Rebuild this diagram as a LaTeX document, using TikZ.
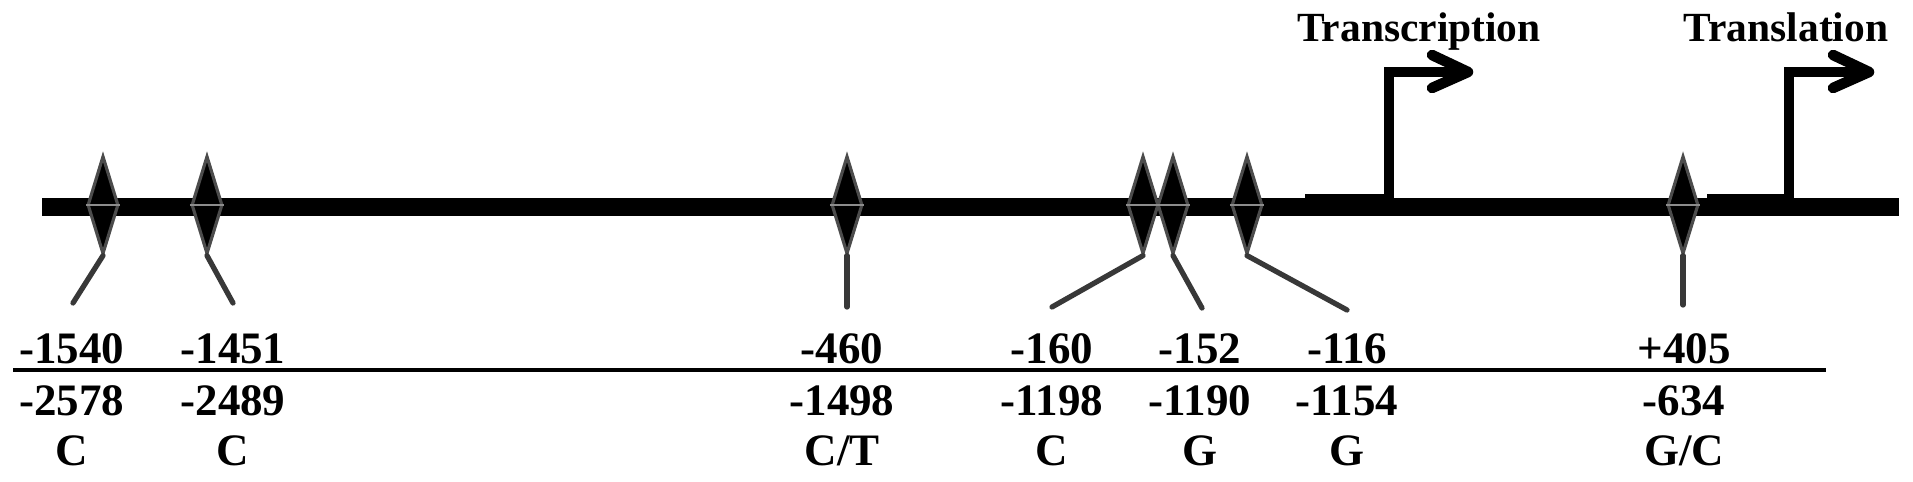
\documentclass[tikz,border=0pt]{standalone}
\usepackage{fontspec}
\setmainfont{Liberation Serif}
\usetikzlibrary{shapes.geometric}
\begin{document}
\begin{tikzpicture}[x=0.1mm,y=-0.1mm,
  snp/.style={diamond,fill=black,draw=black!70,line width=0.9pt,inner sep=0pt,minimum width=3.1mm,minimum height=9.8mm},
  mid/.style={draw=black!45,line width=0.7pt},
  lead/.style={draw=black!78,line width=1.5pt,line cap=round},
  lbl/.style={anchor=base,inner sep=0pt,font=\fontsize{12.8}{14}\selectfont\bfseries},
  ttl/.style={anchor=base,inner sep=0pt,font=\fontsize{11.8}{13}\selectfont\bfseries},
  dna/.style={line width=5.3pt},
  exon/.style={line width=6.3pt},
  bendline/.style={line width=3pt,line join=miter},
  chev/.style={line width=3pt,line cap=round,line join=round}
]
\useasboundingbox (0,0) rectangle (1913,482);
% main DNA line
\coordinate (L) at (42,207);
\coordinate (R) at (1899,207);
\draw[dna] (L) -- (R);
% transcription start
\coordinate (tsA) at (1305,205);
\coordinate (tsB) at (1389,205);
\coordinate (tsE) at (1468,72);
\draw[exon] (tsA) -- (tsB);
\draw[bendline] (tsB) |- (tsE);
\coordinate (tsU) at (1432,55);
\coordinate (tsD) at (1432,88);
\draw[chev] (tsU) -- (tsE) -- (tsD);
\node[ttl] (ttxt) at (1419,42) {Transcription};
% translation start
\coordinate (tlA) at (1707,205);
\coordinate (tlB) at (1789,205);
\coordinate (tlE) at (1869,72);
\draw[exon] (tlA) -- (tlB);
\draw[bendline] (tlB) |- (tlE);
\coordinate (tlU) at (1833,55);
\coordinate (tlD) at (1833,88);
\draw[chev] (tlU) -- (tlE) -- (tlD);
\node[ttl] (tltxt) at (1786,42) {Translation};
% SNP diamonds
\foreach \n/\x/\ex/\ey in {1/103/73/303, 2/207/233/303, 3/847/847/307, 4/1143/1052/307, 5/1173/1202/308, 6/1247/1347/310, 7/1683/1683/305}{
  \node[snp] (d\n) at (\x,205) {};
  \draw[mid] (d\n.west) -- (d\n.east);
  \coordinate (e\n) at (\ex,\ey);
  \draw[lead] (d\n.south) -- (e\n);
}
% separator
\coordinate (S1) at (13,370);
\coordinate (S2) at (1826,370);
\draw[line width=1.4pt] (S1) -- (S2);
% labels
\foreach \n/\x/\a/\b/\c in {1/72/-1540/-2578/C, 2/233/-1451/-2489/C, 3/842/-460/-1498/C\slash T, 4/1052/-160/-1198/C, 5/1200/-152/-1190/G, 6/1347/-116/-1154/G, 7/1684/+405/-634/G\slash C}{
  \node[lbl] (p\n) at (\x,363) {\a};
  \node[lbl] (q\n) at (\x,415) {\b};
  \node[lbl] (r\n) at (\x,465) {\c};
}
\end{tikzpicture}
\end{document}
